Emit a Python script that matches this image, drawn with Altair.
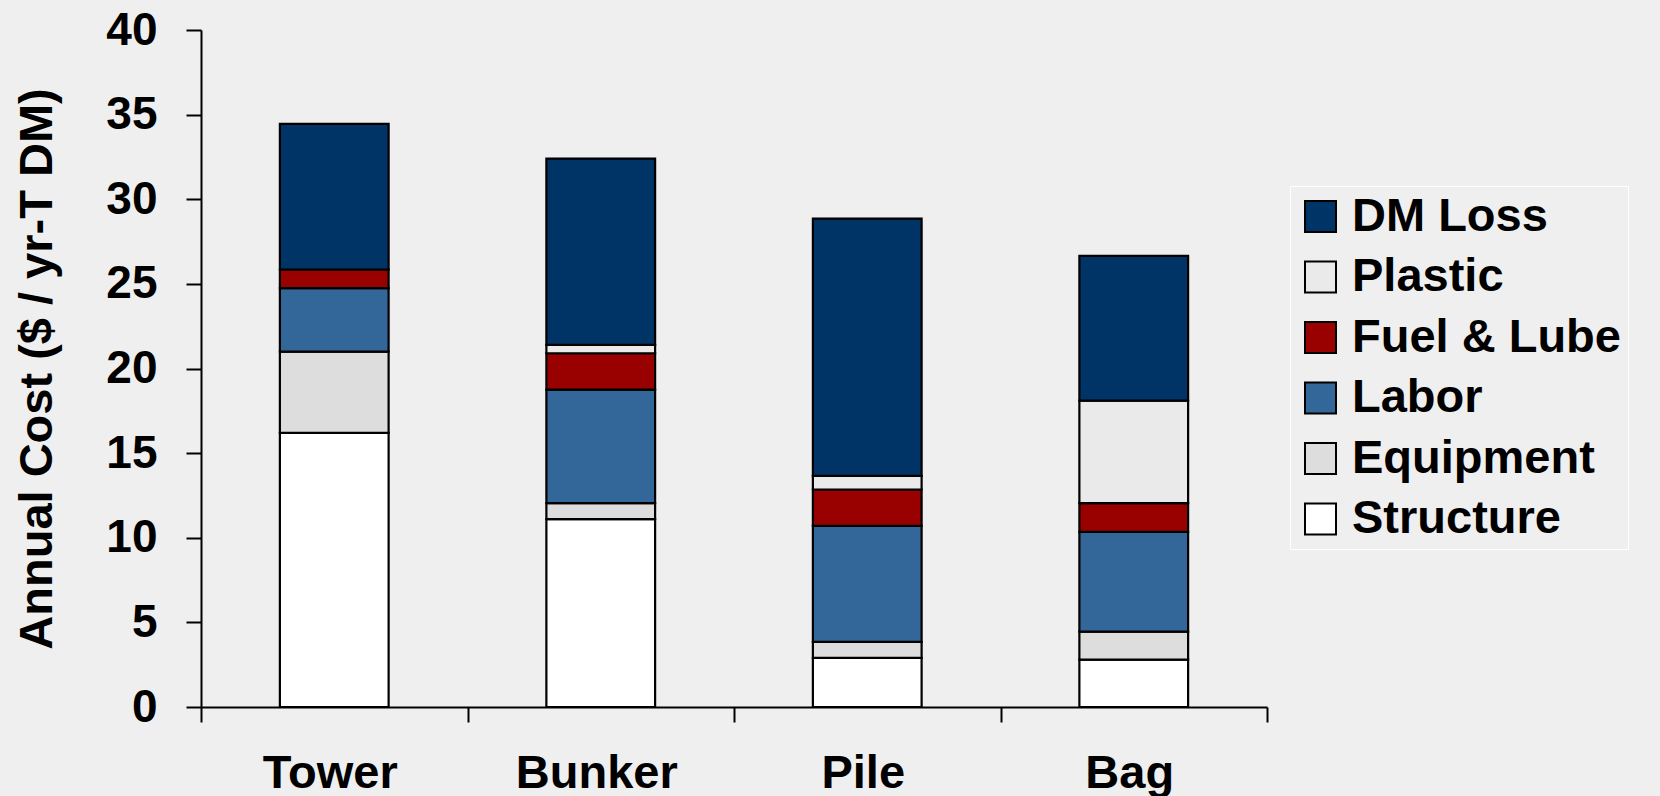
import altair as alt
import pandas as pd

sites = ["Tower", "Bunker", "Pile", "Bag"]
structure = [16.2, 11.1, 2.9, 2.8]
equipment = [4.8, 0.95, 0.95, 1.65]
labor = [3.75, 6.7, 6.85, 5.9]
fuel_lube = [1.1, 2.15, 2.15, 1.7]
plastic = [0.0, 0.5, 0.8, 6.05]
dm_loss = [8.6, 11.0, 15.2, 8.55]

components = ["Structure", "Equipment", "Labor", "Fuel & Lube", "Plastic", "DM Loss"]
series = [structure, equipment, labor, fuel_lube, plastic, dm_loss]
colors = ["#ffffff", "#dddddd", "#336699", "#990000", "#eaeaea", "#003366"]

# category boundaries (ticks between categories, Excel style)
boundaries = [0, 1, 2, 3, 4]

rows = []
for ci, (comp, vals) in enumerate(zip(components, series)):
    for s, v in zip(sites, vals):
        rows.append({"site": s, "component": comp, "cost": v, "order": ci})
df = pd.DataFrame(rows)
bdf = pd.DataFrame({"b": boundaries})

legend_order = components[::-1]
legend_colors = colors[::-1]

FONT = "Liberation Sans"
BG = "#efefef"

bars = alt.Chart(df).transform_filter(
    alt.datum.cost > 0
).mark_bar(stroke="black", strokeWidth=2.2).encode(
    x=alt.X(
        "site:N",
        sort=sites,
        scale=alt.Scale(paddingInner=0.592, paddingOuter=0.296),
        axis=alt.Axis(
            title=None, labelAngle=0, ticks=False, orient="bottom",
            labelOffset=-4, labelPadding=43, labelFontSize=47, labelFont=FONT,
            labelFontWeight="bold", labelColor="black",
            domainColor="black", domainWidth=2,
        ),
    ),
    y=alt.Y(
        "cost:Q",
        stack="zero",
        scale=alt.Scale(domain=[0, 40], nice=False),
        axis=alt.Axis(
            title="Annual Cost ($ / yr-T DM)", values=[0, 5, 10, 15, 20, 25, 30, 35, 40],
            grid=False, tickSize=15, labelPadding=29, labelFontSize=46,
            labelFont=FONT, labelFontWeight="bold", labelColor="black",
            titleFont=FONT, titleFontSize=47, titleFontWeight="bold",
            titleColor="black", titleX=-140, titleBaseline="bottom",
            domainColor="black", domainWidth=2, tickColor="black", tickWidth=2,
        ),
    ),
    color=alt.Color(
        "component:N",
        scale=alt.Scale(domain=legend_order, range=legend_colors),
        legend=alt.Legend(
            title=None, orient="none", legendX=1089, legendY=156,
            symbolType="square", symbolSize=961, symbolStrokeColor="black",
            symbolStrokeWidth=2, symbolOffset=0, labelOffset=8,
            labelFontSize=47, labelFont=FONT, labelFontWeight="bold",
            labelColor="black", rowPadding=12.5, padding=7,
            strokeColor="white", fillColor=BG, labelLimit=400,
        ),
    ),
    order=alt.Order("order:Q", sort="ascending"),
)

ticks = alt.Chart(bdf).mark_point(opacity=0).encode(
    x=alt.X(
        "b:Q",
        scale=alt.Scale(domain=[0, 4], nice=False, zero=False),
        axis=alt.Axis(
            title=None, orient="bottom", labels=False, domain=False, grid=False,
            values=boundaries, tickSize=15, tickColor="black", tickWidth=2,
        ),
    ),
    y=alt.Y("b:Q", scale=alt.Scale(domain=[0, 40]), axis=None),
)

chart = alt.layer(bars, ticks).resolve_scale(
    x="independent", y="independent"
).properties(
    width=1066,
    height=677,
    background=BG,
    padding={"left": 201, "top": 30, "right": 393, "bottom": 89},
    autosize=alt.AutoSizeParams(type="none"),
).configure_view(stroke=None)

chart.save("out.html", embed_options={"renderer": "svg", "actions": False})
